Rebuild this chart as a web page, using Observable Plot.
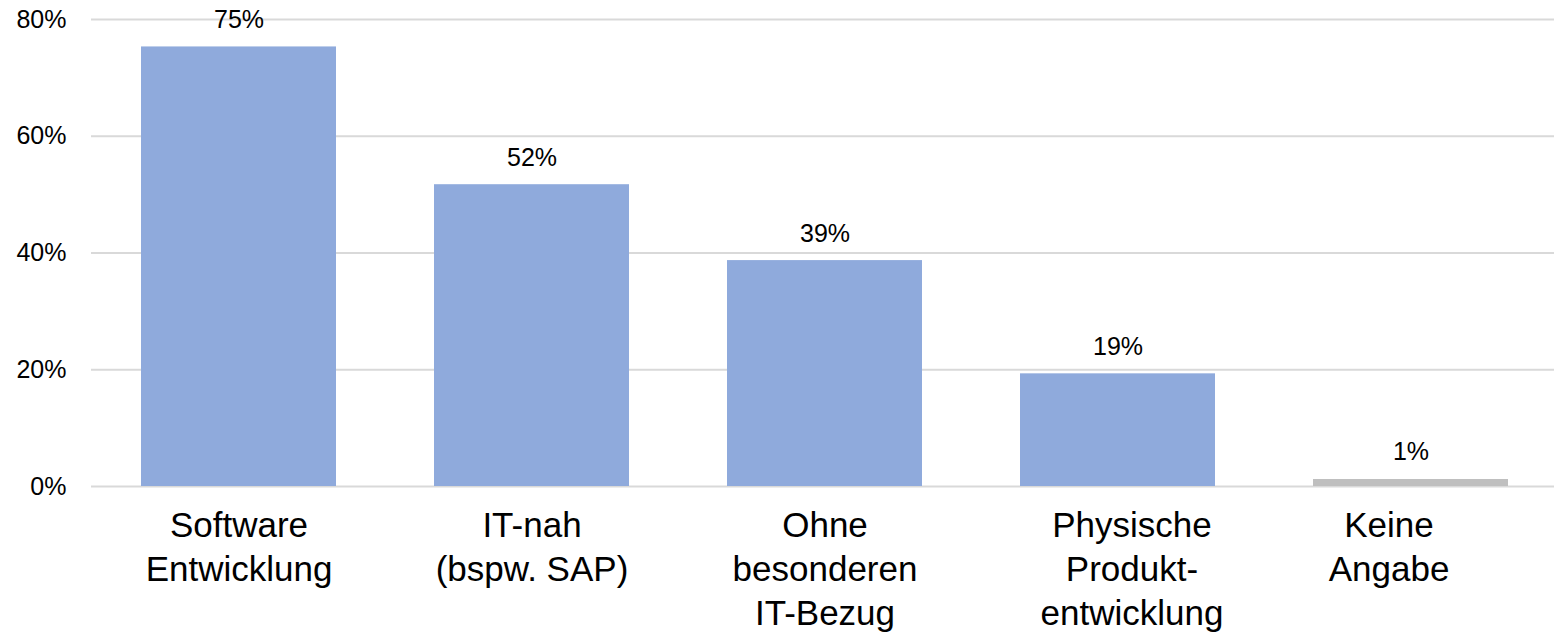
<!DOCTYPE html>
<html>
<head>
<meta charset="utf-8">
<script src="https://cdn.jsdelivr.net/npm/d3@7"></script>
<script src="https://cdn.jsdelivr.net/npm/@observablehq/plot@0.6"></script>
<style>
  html, body { margin: 0; padding: 0; background: #fff; }
  #chart svg { display: block; }
</style>
</head>
<body>
<div id="chart"></div>
<script>
const categories = ["Software\nEntwicklung", "IT-nah\n(bspw. SAP)", "Ohne\nbesonderen\nIT-Bezug", "Physische\nProdukt-\nentwicklung", "Keine\nAngabe"];
const values = [0.753, 0.517, 0.387, 0.193, 0.012];
const valueLabels = ["75%", "52%", "39%", "19%", "1%"];
const yTicks = [0, 0.2, 0.4, 0.6, 0.8];
const yTickLabels = ["0%", "20%", "40%", "60%", "80%"];

const data = categories.map((c, i) => ({cat: c, value: values[i], label: valueLabels[i]}));
const blue = "#8faadc", gray = "#bfbfbf";
const font = "'Liberation Sans', Arial, sans-serif";
const catText = {fontSize: 35, fill: "#000", lineAnchor: "top", lineHeight: 1.26, dy: 19};

const chart = Plot.plot({
  width: 1554,
  height: 634,
  marginLeft: 91,
  marginRight: -4,
  marginTop: 19,
  marginBottom: 148,
  style: {fontFamily: font, background: "#fff", color: "#000", overflow: "hidden"},
  x: {domain: categories, paddingInner: 0.334, paddingOuter: 0.167, axis: null},
  y: {domain: [0, 0.8], axis: null},
  marks: [
    Plot.gridY(yTicks, {stroke: "#d9d9d9", strokeOpacity: 1, strokeWidth: 2}),
    Plot.axisY(yTicks, {tickSize: 0, tickPadding: 25, fontSize: 25, fill: "#000",
      tickFormat: (d, i) => yTickLabels[i], label: null}),
    Plot.barY(data, {x: "cat", y: "value", fill: d => d.cat.startsWith("Keine") ? gray : blue}),
    Plot.text(data, {x: "cat", y: "value", text: "label", fontSize: 25, fill: "#000",
      lineAnchor: "bottom", dy: -19}),
    Plot.text(data.filter(d => !d.cat.startsWith("Keine") && !d.cat.startsWith("Physische")),
      {x: "cat", y: () => 0, text: "cat", ...catText}),
    Plot.text(data.filter(d => d.cat.startsWith("Physische")),
      {x: "cat", y: () => 0, text: "cat", ...catText, dx: 14}),
    Plot.text(data.filter(d => d.cat.startsWith("Keine")),
      {x: "cat", y: () => 0, text: "cat", ...catText, dx: -22})
  ]
});
document.getElementById("chart").appendChild(chart);
</script>
</body>
</html>
